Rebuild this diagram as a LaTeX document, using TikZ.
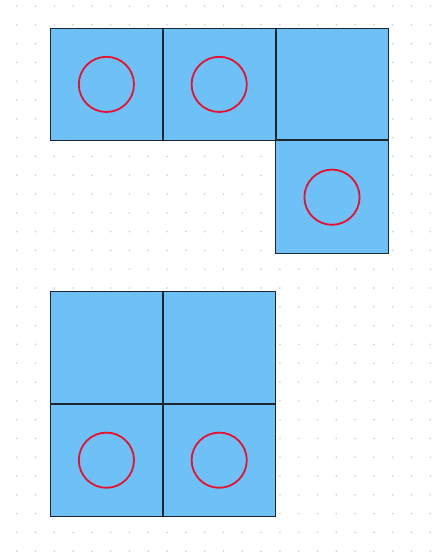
\documentclass[tikz,border=0pt]{standalone}
\usepackage{tikz}

\definecolor{cellblue}{HTML}{6EC1F7}
\definecolor{celledge}{HTML}{1B2631}
\definecolor{ringred}{HTML}{E8102E}
\definecolor{dotgray}{HTML}{D4D4D4}

\tikzset{
	cell/.style={draw=celledge, fill=cellblue, line width=1pt, minimum size=112.8pt, inner sep=0pt},
	seam/.style={draw=celledge, line width=1.8pt},
	ring/.style={draw=ringred, line width=1.8pt}
}

\begin{document}
\begin{tikzpicture}[x=1pt, y=1pt]
	\useasboundingbox (0,0) rectangle (435,-552);
	% dot grid
	\foreach \i in {0,...,22}
		\foreach \j in {0,...,29}
			\fill[dotgray] (16.7+18.8*\i, -6-18.8*\j) circle (1pt);
	% upper shape
	\node [cell] (u1) at (106.4,-84.4) {};
	\node [cell] (u2) at (219.2,-84.4) {};
	\node [cell] (u3) at (332,-84.4) {};
	\node [cell] (u4) at (332,-197.2) {};
	\draw [seam] (u1.north east) -- (u1.south east);
	\draw [seam] (u2.north east) -- (u2.south east);
	\draw [seam] (u4.north west) -- (u4.north east);
	% lower shape
	\node [cell] (l1) at (106.4,-347.4) {};
	\node [cell] (l2) at (219.2,-347.4) {};
	\node [cell] (l3) at (106.4,-460.2) {};
	\node [cell] (l4) at (219.2,-460.2) {};
	\draw [seam] (l1.north east) -- (l3.south east);
	\draw [seam] (l1.south west) -- (l2.south east);
	% rings
	\draw [ring] (u1.center) circle (27.6pt);
	\draw [ring] (u2.center) circle (27.6pt);
	\draw [ring] (u4.center) circle (27.6pt);
	\draw [ring] (l3.center) circle (27.6pt);
	\draw [ring] (l4.center) circle (27.6pt);
\end{tikzpicture}
\end{document}
